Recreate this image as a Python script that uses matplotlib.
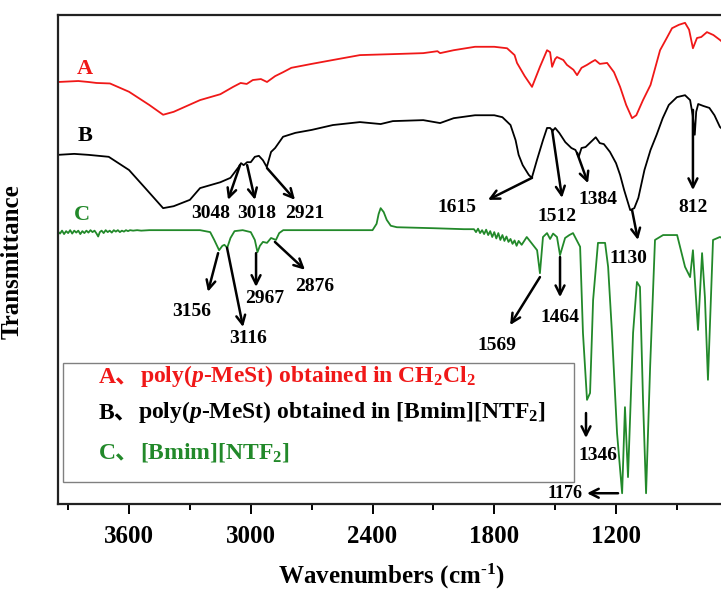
import matplotlib
matplotlib.use('Agg')
import matplotlib.pyplot as plt
from matplotlib.ticker import MultipleLocator, NullLocator
from matplotlib.patches import Rectangle

plt.rcParams['font.family'] = ['Liberation Serif', 'Noto Sans CJK SC']
plt.rcParams['font.weight'] = 'bold'
plt.rcParams['axes.labelweight'] = 'bold'
plt.rcParams['mathtext.fontset'] = 'custom'
plt.rcParams['mathtext.rm'] = 'Liberation Serif:bold'
plt.rcParams['mathtext.it'] = 'Liberation Serif:italic:bold'
plt.rcParams['mathtext.bf'] = 'Liberation Serif:bold'
plt.rcParams['mathtext.default'] = 'rm'

# spectrum A: poly(p-MeSt) in CH2Cl2 (offset, arbitrary units)
wn_a = [3950, 3850, 3800, 3760, 3694, 3600, 3500, 3432, 3380, 3250, 3150, 3087, 3050, 3020,
        2990, 2950, 2920, 2880, 2841, 2800, 2700, 2595, 2462, 2300, 2150, 2080, 2067, 2000,
        1895, 1800, 1737, 1700, 1688, 1650, 1614, 1575, 1540, 1525, 1515, 1500, 1491, 1460,
        1442, 1410, 1392, 1370, 1343, 1320, 1303, 1280, 1244, 1210, 1180, 1150, 1121, 1100,
        1067, 1030, 983, 950, 924, 890, 860, 840, 821, 801, 780, 752, 720, 688, 660]
t_a = [86.3, 86.5, 86.3, 86.1, 86.0, 84.3, 81.6, 79.6, 80.2, 82.6, 83.8, 85.3, 86.1, 85.9,
       86.7, 86.9, 86.3, 87.5, 88.3, 89.2, 90.0, 90.8, 91.8, 92.0, 92.2, 92.6, 92.2, 92.8,
       93.5, 93.5, 93.2, 91.8, 90.2, 87.5, 85.3, 89.4, 92.8, 92.4, 89.4, 91.0, 91.4, 90.8,
       89.8, 88.8, 87.7, 89.2, 89.8, 90.4, 90.8, 90.0, 90.2, 88.3, 85.3, 81.6, 78.9, 79.5,
       82.6, 85.7, 92.8, 95.3, 97.3, 98.0, 98.4, 97.0, 93.2, 95.3, 95.5, 96.5, 95.9, 94.9, 93.9]

# spectrum B: poly(p-MeSt) in [Bmim][NTF2]
wn_b = [3950, 3870, 3800, 3700, 3600, 3520, 3432, 3380, 3300, 3250, 3150, 3100, 3060, 3048,
        3035, 3018, 3000, 2980, 2960, 2940, 2921, 2900, 2880, 2841, 2780, 2700, 2595, 2462,
        2360, 2300, 2150, 2067, 2000, 1895, 1800, 1760, 1720, 1695, 1680, 1660, 1630, 1615,
        1590, 1560, 1540, 1525, 1512, 1500, 1480, 1450, 1420, 1400, 1384, 1370, 1350, 1330,
        1300, 1280, 1260, 1230, 1200, 1180, 1160, 1130, 1110, 1090, 1060, 1030, 1000, 970,
        940, 900, 860, 835, 822, 812, 805, 795, 770, 740, 715, 688, 660]
t_b = [71.4, 71.6, 71.4, 71.0, 68.3, 64.6, 60.5, 60.9, 62.2, 64.6, 65.8, 66.7, 68.9, 69.7,
       69.3, 69.9, 69.9, 71.0, 71.2, 70.3, 68.9, 72.0, 72.8, 75.1, 75.9, 76.5, 77.5, 78.1,
       77.7, 78.3, 78.5, 77.9, 78.9, 79.5, 79.5, 79.1, 77.5, 74.4, 71.4, 69.3, 67.3, 66.7,
       70.3, 74.4, 76.9, 76.9, 76.3, 76.9, 75.9, 74.0, 72.8, 72.4, 71.0, 72.8, 73.0, 73.8,
       75.0, 73.8, 73.6, 72.0, 69.7, 67.3, 64.2, 60.1, 60.5, 62.6, 68.3, 72.4, 75.5, 78.9,
       81.6, 83.2, 83.6, 82.6, 79.5, 75.5, 80.2, 81.8, 81.4, 81.0, 79.5, 77.1, 76.1]

# spectrum C: [Bmim][NTF2]
wn_c = [3950, 3940, 3930, 3920, 3910, 3900, 3890, 3880, 3870, 3860, 3850, 3840, 3830, 3820,
        3810, 3800, 3790, 3780, 3770, 3760, 3752, 3744, 3735, 3725, 3715, 3705, 3695, 3685,
        3675, 3665, 3655, 3645, 3635, 3625, 3615, 3605, 3595, 3580, 3560, 3540, 3500, 3400,
        3250, 3200, 3180, 3156, 3140, 3130, 3116, 3100, 3080, 3040, 3000, 2980, 2967, 2955,
        2940, 2920, 2900, 2876, 2860, 2840, 2700, 2400, 2380, 2370, 2360, 2345, 2330, 2310,
        2280, 2100, 1950, 1900, 1890, 1880, 1870, 1860, 1850, 1840, 1830, 1820, 1810, 1800,
        1790, 1780, 1770, 1760, 1750, 1740, 1730, 1720, 1710, 1700, 1690, 1680, 1665, 1640,
        1589, 1575, 1560, 1540, 1525, 1510, 1491, 1476, 1451, 1430, 1412, 1377, 1363, 1343,
        1328, 1313, 1289, 1254, 1239, 1220, 1195, 1170, 1156, 1141, 1116, 1097, 1082, 1067,
        1052, 1032, 1008, 968, 899, 860, 835, 821, 796, 776, 762, 747, 722, 688, 660]
t_c = [55.7, 55.3, 55.9, 55.2, 55.8, 55.4, 56.0, 55.3, 55.9, 55.5, 55.9, 55.2, 55.8, 55.4,
       55.9, 55.5, 56.0, 55.6, 55.9, 55.3, 54.7, 55.6, 55.9, 55.4, 56.0, 55.6, 55.9, 55.5,
       56.0, 55.7, 56.0, 55.6, 55.9, 55.7, 56.0, 55.8, 56.0, 55.9, 56.0, 55.9, 56.0, 56.0,
       56.0, 55.6, 54.0, 51.9, 52.8, 53.0, 52.4, 54.4, 55.8, 56.0, 55.6, 54.0, 51.5, 52.8,
       53.6, 53.4, 54.4, 54.0, 55.4, 56.0, 56.0, 56.0, 57.3, 59.3, 60.5, 59.7, 58.1, 56.9,
       56.6, 56.4, 56.2, 56.2, 55.6, 56.3, 55.4, 56.0, 55.2, 56.1, 55.0, 55.8, 54.6, 55.6,
       54.3, 55.4, 54.0, 55.0, 53.8, 54.7, 53.6, 54.2, 53.2, 53.9, 52.8, 53.8, 53.0, 54.6,
       51.9, 47.2, 54.6, 55.4, 54.2, 55.3, 54.6, 50.9, 54.4, 55.0, 55.4, 52.6, 35.0, 21.3,
       22.7, 41.7, 53.4, 53.4, 48.5, 35.0, 14.5, 2.2, 19.8, 5.5, 35.0, 45.4, 44.4, 21.3,
       2.2, 28.0, 54.0, 55.0, 55.0, 48.5, 46.4, 51.9, 35.6, 51.3, 42.3, 25.4, 54.0, 54.6, 54.0]

# peak labels: text, text position, arrow tail, arrow head
peak_notes = [
    ('3048', (3196, 59.5), (3053, 69.3), (3112, 62.2)),
    ('3018', (2969, 59.5), (3018, 69.3), (2979, 62.2)),
    ('2921', (2733, 59.5), (2920, 68.7), (2782, 62.2)),
    ('1615', (1984, 60.7), (1614, 66.7), (1831, 62.2)),
    ('1512', (1491, 58.7), (1515, 76.5), (1466, 62.6)),
    ('1384', (1289, 62.2), (1392, 71.8), (1338, 65.6)),
    ('1130', (1141, 50.3), (1121, 60.1), (1092, 54.0)),
    ('812', (821, 60.7), (821, 80.6), (821, 64.2)),
    ('3156', (3290, 39.3), (3161, 51.3), (3211, 43.4)),
    ('3116', (3014, 33.9), (3117, 52.4), (3038, 36.2)),
    ('2967', (2930, 42.1), (2974, 51.3), (2974, 44.4)),
    ('2876', (2683, 44.4), (2881, 53.6), (2733, 47.9)),
    ('1569', (1787, 32.5), (1575, 46.4), (1722, 36.6)),
    ('1464', (1476, 38.2), (1476, 50.5), (1476, 42.3)),
    ('1346', (1289, 10.0), (1348, 18.6), (1348, 13.5)),
]
note_1176 = ('1176', (1451, 2.2), (1190, 2.2), (1343, 2.2))

red = '#f01818'
green = '#22892a'

fig = plt.figure(figsize=(7.21, 5.97), dpi=100)
ax = fig.add_axes([58 / 721, 93 / 597, 667 / 721, 489 / 597])

ax.plot(wn_a, t_a, color=red, lw=1.3)
ax.plot(wn_b, t_b, color='black', lw=1.3)
ax.plot(wn_c, t_c, color=green, lw=1.3)

ax.text(3817, 89.0, 'A', color=red, fontsize=16, ha='center', va='center')
ax.text(3817, 75.3, 'B', color='black', fontsize=16, ha='center', va='center')
ax.text(3832, 59.1, 'C', color=green, fontsize=16, ha='center', va='center')

arrow = dict(arrowstyle='->', color='black', lw=1.8, mutation_scale=16, shrinkA=0, shrinkB=0)
for label, pos, tail, head in peak_notes:
    ax.annotate('', xy=head, xytext=tail, arrowprops=arrow)
    ax.text(pos[0], pos[1], label, fontsize=14, ha='center', va='center')
label, pos, tail, head = note_1176
ax.annotate('', xy=head, xytext=tail, arrowprops=arrow)
ax.text(pos[0], pos[1], label, fontsize=13, ha='center', va='center')

# legend box
ax.add_patch(Rectangle((0.0075, 0.045), 0.7665, 0.243, transform=ax.transAxes,
                       facecolor='white', edgecolor='#808080', lw=1.0, zorder=5))
legend_lines = [
    ('A、', r'poly($\mathit{p}$-MeSt) obtained in CH$_2$Cl$_2$', red, 0.2495),
    ('B、', r'poly($\mathit{p}$-MeSt) obtained in [Bmim][NTF$_2$]', 'black', 0.176),
    ('C、', r'[Bmim][NTF$_2$]', green, 0.094),
]
for head_txt, rest, col, yy in legend_lines:
    t1 = ax.text(0.0615, yy, head_txt, transform=ax.transAxes, color=col,
                 fontsize=17, va='baseline', zorder=6)
    ax.annotate(rest, xy=(1, yy), xycoords=(t1, 'axes fraction'), color=col,
                fontsize=17, va='baseline', ha='left', zorder=6)

ax.set_xlim(3950, 663)
ax.set_ylim(0, 100)
ax.xaxis.set_major_locator(MultipleLocator(600))
ax.xaxis.set_minor_locator(MultipleLocator(300))
ax.yaxis.set_major_locator(NullLocator())
ax.tick_params(axis='x', which='major', direction='out', length=7, width=1.4,
               labelsize=18, pad=8)
ax.tick_params(axis='x', which='minor', direction='out', length=4.5, width=1.4)
for side in ['left', 'bottom', 'top']:
    ax.spines[side].set_linewidth(1.6)
    ax.spines[side].set_color('#222222')
ax.spines['right'].set_visible(False)

ax.set_xlabel(r'Wavenumbers (cm$^{\text{-1}}$)', fontsize=18, labelpad=10)
ax.set_ylabel('Transmittance', fontsize=18)
ax.yaxis.set_label_coords(-0.052, 0.495)

fig.savefig('out.png', dpi=100)
